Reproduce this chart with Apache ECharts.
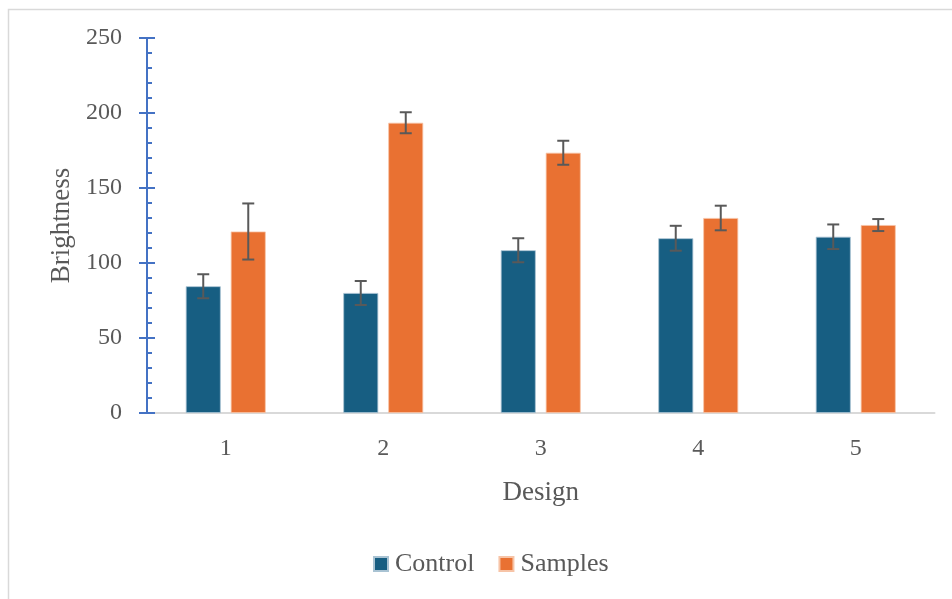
<!DOCTYPE html>
<html>
<head>
<meta charset="utf-8">
<script src="https://cdn.jsdelivr.net/npm/echarts@6/dist/echarts.min.js"></script>
<style>
html,body{margin:0;padding:0;background:#fff;}
#chart{width:952px;height:599px;}
</style>
</head>
<body>
<div id="chart"></div>
<script>
var categories = ['1', '2', '3', '4', '5'];
var controlValues = [84.5, 80, 108.5, 116.5, 117.5];
var controlErrors = [8, 8, 8, 8.3, 8.2];
var samplesValues = [121, 193.5, 173.5, 130, 125.3];
var samplesErrors = [18.7, 7, 8, 8.2, 4];
var yTicks = [0, 50, 100, 150, 200, 250];

var FONT = '"Palatino Linotype","Book Antiqua",Palatino,"Liberation Serif","DejaVu Serif",serif';
var TXT = '#595959';

function errData(vals, errs) {
  return vals.map(function (v, i) { return [i, v - errs[i], v + errs[i]]; });
}
function errSeries(vals, errs, side) {
  return {
    type: 'custom',
    data: errData(vals, errs),
    encode: { x: 0, y: [1, 2] },
    z: 10,
    silent: true,
    renderItem: function (params, api) {
      var band = api.size([1, 0])[0];
      var off = side * band * 0.1429;
      var lo = api.coord([api.value(0), api.value(1)]);
      var hi = api.coord([api.value(0), api.value(2)]);
      var x = lo[0] + off;
      var cap = 6;
      var st = { stroke: '#595959', lineWidth: 2 };
      return {
        type: 'group',
        children: [
          { type: 'line', shape: { x1: x, y1: lo[1], x2: x, y2: hi[1] }, style: st },
          { type: 'line', shape: { x1: x - cap, y1: lo[1], x2: x + cap, y2: lo[1] }, style: st },
          { type: 'line', shape: { x1: x - cap, y1: hi[1], x2: x + cap, y2: hi[1] }, style: st }
        ]
      };
    }
  };
}

var chart = echarts.init(document.getElementById('chart'), null, { renderer: 'canvas' });
chart.setOption({
  backgroundColor: '#fff',
  animation: false,
  textStyle: { fontFamily: FONT },
  graphic: [{
    type: 'rect', shape: { x: 8.5, y: 9.5, width: 1200, height: 1200 },
    style: { fill: 'none', stroke: '#d9d9d9', lineWidth: 1.5 }, silent: true, z: -1
  }],
  grid: { left: 147, top: 38, right: 17.5, bottom: 186, containLabel: false },
  legend: {
    data: ['Control', 'Samples'],
    bottom: 17,
    left: 368,
    itemWidth: 14,
    itemHeight: 14,
    itemGap: 24,
    icon: 'rect',
    textStyle: { fontFamily: FONT, fontSize: 26, color: TXT, padding: [0, 0, 0, 2] }
  },
  xAxis: {
    type: 'category',
    data: categories,
    name: 'Design',
    nameLocation: 'middle',
    nameGap: 66,
    nameTextStyle: { fontFamily: FONT, fontSize: 27, color: TXT },
    axisLine: { lineStyle: { color: '#d9d9d9', width: 2 } },
    axisTick: { show: false },
    axisLabel: { fontFamily: FONT, fontSize: 24, color: TXT, margin: 24 }
  },
  yAxis: [{
    type: 'value',
    min: yTicks[0],
    max: yTicks[yTicks.length - 1],
    interval: 50,
    name: 'Brightness',
    nameLocation: 'middle',
    nameGap: 71,
    nameTextStyle: { fontFamily: FONT, fontSize: 27, color: TXT },
    axisLine: { show: true, lineStyle: { color: '#4472c4', width: 2 } },
    axisTick: { show: true, inside: true, length: 8, lineStyle: { color: '#4472c4', width: 2 } },
    minorTick: { show: true, splitNumber: 5, length: 5, lineStyle: { color: '#4472c4', width: 2 } },
    splitLine: { show: false },
    axisLabel: { fontFamily: FONT, fontSize: 24, color: TXT, margin: 25 }
  }, {
    type: 'value',
    position: 'left',
    offset: 0,
    min: yTicks[0],
    max: yTicks[yTicks.length - 1],
    interval: 50,
    axisLine: { show: false },
    axisTick: { show: true, inside: false, length: 8, lineStyle: { color: '#4472c4', width: 2 } },
    axisLabel: { show: false },
    splitLine: { show: false }
  }],
  series: [
    {
      name: 'Control', type: 'bar', data: controlValues,
      barWidth: '22.2%', barGap: '28.6%',
      itemStyle: { color: '#175e82', borderColor: '#a9c3d3', borderWidth: 0.8 }
    },
    {
      name: 'Samples', type: 'bar', data: samplesValues,
      barWidth: '22.2%', barGap: '28.6%',
      itemStyle: { color: '#e97132', borderColor: '#f7c4a7', borderWidth: 0.8 }
    },
    errSeries(controlValues, controlErrors, -1),
    errSeries(samplesValues, samplesErrors, 1)
  ]
});
</script>
</body>
</html>
